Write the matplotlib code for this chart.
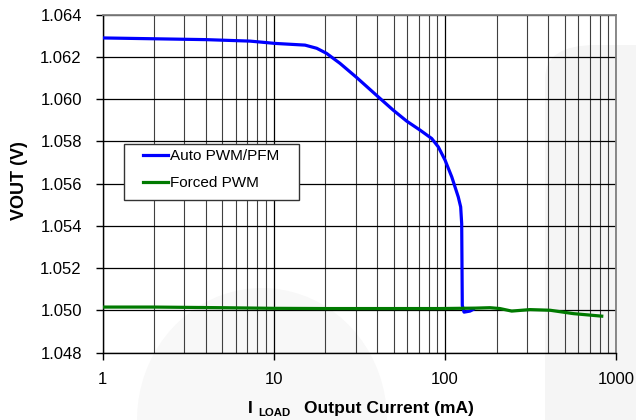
import matplotlib
matplotlib.use("Agg")
import matplotlib.pyplot as plt
from matplotlib.ticker import FixedLocator, NullFormatter, FuncFormatter
from matplotlib.patches import Rectangle, FancyBboxPatch, Polygon
import numpy as np

plt.rcParams['font.family'] = ['Liberation Sans', 'DejaVu Sans']

# Data
auto_x = [1, 2, 4, 7.25, 10.2, 15.2, 17.8, 20.3, 24.3, 30.5, 40.7, 49.8, 59.7,
          71.3, 83.5, 91.3, 100, 109.4, 119.4, 123.3, 125, 126, 129, 139.8, 146]
auto_y = [1.0629, 1.06286, 1.06282, 1.06275, 1.06264, 1.06256, 1.06241, 1.06217, 1.0617,
          1.06102, 1.06011, 1.05948, 1.05896, 1.05854, 1.05814, 1.05774, 1.05711,
          1.05632, 1.05537, 1.0549, 1.05411, 1.05024, 1.04992, 1.04997, 1.05005]
forced_x = [1, 2, 5, 10, 20, 50, 93.3, 150, 183, 209, 245, 313, 410, 561, 822]
forced_y = [1.05016, 1.05016, 1.05013, 1.0501, 1.05009, 1.05009, 1.05009, 1.05011,
            1.05013, 1.05009, 1.04997, 1.05004, 1.05001, 1.04985, 1.04973]
y_ticks = [1.048, 1.050, 1.052, 1.054, 1.056, 1.058, 1.060, 1.062, 1.064]
x_ticks = [1, 10, 100, 1000]

W, H = 636, 420
fig = plt.figure(figsize=(6.36, 4.2), dpi=100)

# faint background watermark shapes
wm = '#f5f5f5'
fig.patches.append(FancyBboxPatch((545 / W, -0.2), 0.3, (1 - 45 / H) + 0.2,
                                  boxstyle='round,pad=0,rounding_size=0.08',
                                  transform=fig.transFigure, facecolor=wm,
                                  edgecolor='none', zorder=-5))
t = np.linspace(0, np.pi, 40)
cx, cy, rx, ry = 262, 420, 125, 132
pts = [((cx + rx * np.cos(a)) / W, 1 - (cy - ry * np.sin(a)) / H) for a in t]
fig.patches.append(Polygon(pts, closed=True, transform=fig.transFigure,
                           facecolor='#f8f8f8', edgecolor='none', zorder=-5))

L, R, T, B = 102.7, 616.3, 14.7, 352.7
ax = fig.add_axes([L / W, 1 - B / H, (R - L) / W, (B - T) / H])
ax.set_facecolor('none')
ax.set_zorder(1)

ax.set_xscale('log')
ax.set_xlim(1, 1000)
ax.set_ylim(1.048, 1.064)

ax.plot(auto_x, auto_y, color='#0000ff', lw=2.3, label='Auto PWM/PFM', zorder=4,
        solid_joinstyle='round')
ax.plot(forced_x, forced_y, color='#007a00', lw=2.3, label='Forced PWM', zorder=5,
        solid_joinstyle='round')

ax.xaxis.set_major_locator(FixedLocator(x_ticks))
minor = [m * d for d in [1, 10, 100] for m in range(2, 10)]
ax.xaxis.set_minor_locator(FixedLocator(minor))
ax.xaxis.set_minor_formatter(NullFormatter())
ax.xaxis.set_major_formatter(FuncFormatter(lambda v, p: f"{int(round(v))}"))
ax.set_yticks(y_ticks)
ax.yaxis.set_major_formatter(FuncFormatter(lambda v, p: f"{v:.3f}"))

ax.grid(True, which='major', axis='both', color='black', lw=0.9)
ax.grid(True, which='minor', axis='x', color='#404040', lw=0.8)
ax.set_axisbelow(True)

ax.tick_params(axis='both', which='major', direction='out', length=5, width=1,
               labelsize=12, color='black')
ax.tick_params(axis='x', which='major', pad=9)
ax.tick_params(axis='y', which='major', pad=10)
ax.tick_params(axis='x', which='minor', length=0)

for s in ['left', 'bottom']:
    ax.spines[s].set_color('black')
    ax.spines[s].set_linewidth(1)
for s in ['top', 'right']:
    ax.spines[s].set_color('#808080')
    ax.spines[s].set_linewidth(1.3)

# axis labels
fig.text(19 / W, 1 - 181 / H, 'VOUT (V)', rotation=90, ha='center', va='center',
         fontsize=13, fontweight='bold')
fig.text(248 / W, 1 - 413 / H, 'I', ha='left', va='baseline', fontsize=12.5,
         fontweight='bold')
fig.text(258 / W, 1 - 416 / H, 'LOAD', ha='left', va='baseline', fontsize=8.2,
         fontweight='bold')
fig.text(304 / W, 1 - 413 / H, 'Output Current (mA)', ha='left', va='baseline',
         fontsize=12.5, fontweight='bold')

# legend
def ax_x(px):
    return (px - L) / (R - L)

def ax_y(py):
    return (B - py) / (B - T)

ax.add_patch(Rectangle((ax_x(124), ax_y(200)), ax_x(299) - ax_x(124), ax_y(144) - ax_y(200),
                       transform=ax.transAxes, facecolor='white', edgecolor='#333333',
                       lw=1, zorder=6))
leg = ax.legend(loc='upper left', bbox_to_anchor=(ax_x(143), ax_y(149)),
                fontsize=11, frameon=False, handlelength=1.65, handletextpad=0.15,
                borderpad=0, labelspacing=0.85, borderaxespad=0)
leg.set_zorder(7)

fig.savefig('out.png', dpi=100)
